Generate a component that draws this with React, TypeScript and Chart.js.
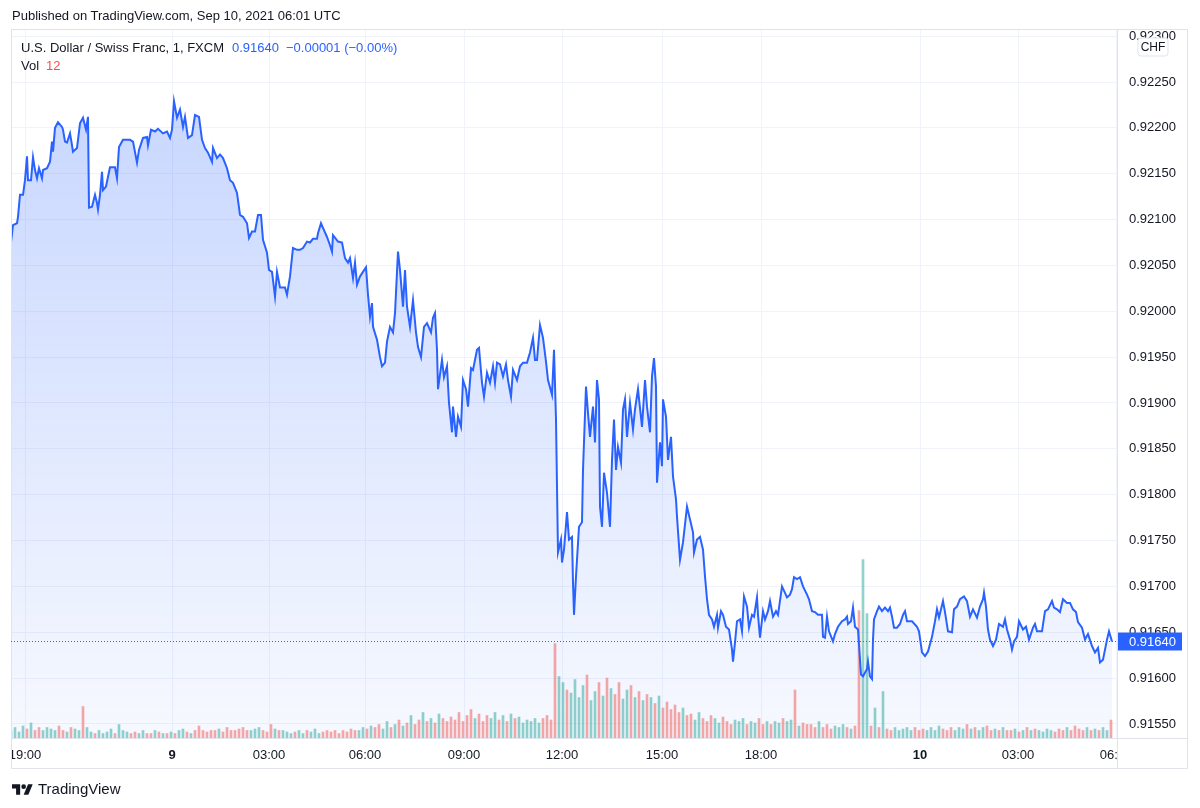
import React, { useEffect, useRef } from "react";
import { Chart, registerables } from "chart.js";

Chart.register(...registerables);

// ---- data (1-minute bars, USDCHF FXCM) ----
const barIndex = [
  0,4,12,14,18,24,28,32,34,40,
  44,48,52,56,62,64,72,78,82,84,
  88,94,102,104,108,112,118,122,124,132,
  138,144,150,154,156,162,168,172,174,178,
  182,184,190,198,208,212,216,224,238,244,
  252,256,264,272,274,280,288,294,304,312,
  318,322,326,332,338,344,348,354,362,368,
  376,382,388,394,402,404,412,418,424,432,
  438,444,452,458,464,472,476,482,488,494,
  500,504,512,516,522,528,532,538,548,552,
  558,564,572,578,584,592,598,604,612,614,
  620,624,632,638,642,644,654,662,668,674,
  678,684,688,692,698,704,710,714,718,722,
  724,732,738,742,748,752,758,764,768,774,
  778,784,788,792,798,804,810,814,820,826,
  832,840,844,848,852,854,862,866,872,876,
  882,884,890,894,900,904,910,914,920,924,
  932,936,942,946,952,958,964,968,972,978,
  984,990,994,1000,1004,1012,1018,1024,1032,1038,
  1044,1048,1052,1058,1064,1070,1074,1082,1086,1090,
  1092,1094,1100,1102,1106,1112,1116,1122,1124,1126,
  1130,1136,1142,1144,1150,1154,1158,1164,1168,1172,
  1176,1178,1182,1186,1192,1198,1202,1206,1210,1214,
  1220,1224,1228,1232,1238,1244,1248,1254,1262,1268,
  1272,1278,1282,1286,1290,1292,1298,1302,1304,1310,
  1314,1320,1324,1330,1332,1338,1344,1352,1358,1364,
  1366,1372,1378,1384,1388,1392,1396,1402,1406,1412,
  1414,1420,1424,1430,1436,1442,1444,1448,1452,1458,
  1462,1466,1472,1476,1482,1486,1492,1494,1498,1504,
  1508,1514,1518,1524,1530,1534,1542,1548,1552,1558,
  1562,1566,1572,1578,1584,1592,1596,1602,1608,1614,
  1622,1624,1628,1632,1636,1644,1648,1654,1662,1668,
  1672,1674,1680,1684,1688,1694,1700,1704,1712,1714,
  1718,1722,1724,1726,1732,1736,1742,1748,1754,1758,
  1762,1766,1772,1778,1784,1788,1792,1802,1812,1816,
  1822,1828,1834,1842,1848,1852,1856,1864,1868,1874,
  1882,1886,1892,1898,1906,1912,1918,1924,1932,1938,
  1944,1946,1950,1954,1958,1964,1970,1976,1984,1988,
  1992,1998,2002,2006,2012,2016,2024,2030,2036,2044,
  2048,2052,2062,2068,2074,2082,2086,2092,2098,2104,
  2112,2118,2124,2130,2134,2142,2148,2154,2162,2168,
  2174,2178,2184,2192,2196,2202,
];

const closePrice = [
  0.92075,0.92094,0.92096,0.92103,0.92127,0.92127,0.92143,0.92169,0.92143,0.92143,
  0.92168,0.92154,0.92145,0.92156,0.92145,0.92154,0.92156,0.92163,0.92185,0.92174,
  0.92200,0.92206,0.92201,0.92198,0.92185,0.92184,0.92194,0.92181,0.92174,0.92178,
  0.92205,0.92211,0.92198,0.92212,0.92113,0.92114,0.92127,0.92118,0.92111,0.92127,
  0.92152,0.92132,0.92136,0.92157,0.92157,0.92145,0.92179,0.92187,0.92187,0.92185,
  0.92162,0.92176,0.92189,0.92190,0.92181,0.92198,0.92196,0.92199,0.92194,0.92196,
  0.92189,0.92198,0.92229,0.92211,0.92220,0.92201,0.92212,0.92189,0.92192,0.92214,
  0.92212,0.92187,0.92178,0.92173,0.92163,0.92178,0.92167,0.92171,0.92167,0.92156,
  0.92143,0.92140,0.92129,0.92105,0.92103,0.92096,0.92080,0.92087,0.92087,0.92105,
  0.92105,0.92078,0.92064,0.92045,0.92043,0.92016,0.92043,0.92026,0.92026,0.92018,
  0.92038,0.92069,0.92067,0.92067,0.92069,0.92076,0.92075,0.92079,0.92079,0.92085,
  0.92096,0.92091,0.92081,0.92072,0.92065,0.92083,0.92076,0.92075,0.92058,0.92053,
  0.92058,0.92036,0.92053,0.92029,0.92038,0.92043,0.92048,0.92018,0.91994,0.92009,
  0.91983,0.91969,0.91950,0.91940,0.91944,0.91967,0.91983,0.91977,0.91998,0.92065,
  0.92045,0.92005,0.92045,0.92005,0.91983,0.92012,0.91977,0.91961,0.91950,0.91983,
  0.91987,0.91977,0.91993,0.91998,0.91958,0.91915,0.91947,0.91928,0.91940,0.91900,
  0.91868,0.91896,0.91863,0.91885,0.91874,0.91925,0.91915,0.91896,0.91938,0.91936,
  0.91958,0.91960,0.91922,0.91907,0.91933,0.91922,0.91940,0.91922,0.91944,0.91942,
  0.91929,0.91942,0.91925,0.91907,0.91936,0.91925,0.91940,0.91944,0.91944,0.91955,
  0.91971,0.91947,0.91947,0.91985,0.91971,0.91945,0.91925,0.91909,0.91958,0.91882,
  0.91809,0.91737,0.91751,0.91726,0.91740,0.91781,0.91751,0.91754,0.91704,0.91669,
  0.91711,0.91765,0.91770,0.91827,0.91918,0.91889,0.91863,0.91896,0.91857,0.91925,
  0.91904,0.91787,0.91765,0.91824,0.91802,0.91765,0.91838,0.91882,0.91827,0.91852,
  0.91835,0.91893,0.91904,0.91863,0.91900,0.91871,0.91893,0.91915,0.91874,0.91925,
  0.91896,0.91868,0.91929,0.91949,0.91918,0.91813,0.91857,0.91831,0.91904,0.91885,
  0.91838,0.91863,0.91820,0.91795,0.91776,0.91729,0.91748,0.91787,0.91773,0.91759,
  0.91737,0.91751,0.91754,0.91740,0.91711,0.91686,0.91669,0.91664,0.91656,0.91669,
  0.91655,0.91673,0.91669,0.91656,0.91653,0.91631,0.91618,0.91639,0.91662,0.91664,
  0.91651,0.91689,0.91678,0.91655,0.91669,0.91667,0.91688,0.91669,0.91644,0.91673,
  0.91664,0.91673,0.91684,0.91667,0.91673,0.91669,0.91700,0.91693,0.91688,0.91691,
  0.91697,0.91710,0.91708,0.91710,0.91700,0.91691,0.91686,0.91673,0.91672,0.91669,
  0.91669,0.91645,0.91644,0.91667,0.91651,0.91640,0.91648,0.91656,0.91662,0.91664,
  0.91667,0.91659,0.91662,0.91677,0.91656,0.91653,0.91604,0.91602,0.91610,0.91618,
  0.91602,0.91599,0.91642,0.91664,0.91673,0.91678,0.91673,0.91677,0.91673,0.91677,
  0.91667,0.91655,0.91655,0.91659,0.91669,0.91673,0.91662,0.91662,0.91656,0.91651,
  0.91628,0.91624,0.91629,0.91645,0.91662,0.91675,0.91666,0.91684,0.91672,0.91651,
  0.91650,0.91675,0.91678,0.91686,0.91689,0.91684,0.91667,0.91675,0.91666,0.91678,
  0.91686,0.91693,0.91678,0.91653,0.91642,0.91635,0.91642,0.91659,0.91656,0.91664,
  0.91653,0.91642,0.91631,0.91640,0.91645,0.91662,0.91653,0.91656,0.91642,0.91655,
  0.91659,0.91651,0.91651,0.91673,0.91675,0.91684,0.91677,0.91675,0.91672,0.91686,
  0.91682,0.91682,0.91675,0.91672,0.91661,0.91655,0.91642,0.91648,0.91635,0.91628,
  0.91633,0.91617,0.91620,0.91642,0.91651,0.91640,
];

// volume sampled every 8 bars
const volumeStep = 8;
const volume = [
  5,7,4,8,6,10,5,7,5,7,
  6,5,8,5,4,7,6,5,21,7,
  4,3,5,3,4,6,3,9,5,4,
  3,4,3,5,3,3,5,4,3,3,
  4,3,5,6,4,3,5,8,5,4,
  5,5,6,4,7,5,5,6,7,5,
  5,6,7,5,4,9,6,5,5,4,
  3,4,5,3,5,4,6,3,4,5,
  4,5,3,5,4,6,5,5,7,6,
  8,7,9,6,11,7,9,12,8,10,
  15,9,12,17,11,13,10,16,13,11,
  14,12,17,11,15,19,13,16,11,15,
  13,17,12,15,11,16,13,14,10,12,
  11,13,10,13,15,12,63,41,37,32,
  30,39,27,35,42,25,31,37,28,40,
  33,29,37,26,32,35,27,31,25,29,
  27,23,28,20,24,19,22,17,20,15,
  16,12,17,13,11,15,13,10,14,11,
  9,12,11,13,9,11,10,13,9,11,
  9,11,10,13,11,12,32,8,10,9,
  9,7,11,7,9,6,8,7,9,7,
  6,8,85,119,83,8,20,7,31,6,
  5,7,5,6,7,5,7,5,6,5,
  7,5,8,6,5,7,5,7,6,9,
  6,7,5,7,8,5,6,5,7,5,
  5,6,4,5,7,5,6,5,4,6,
  5,4,6,5,7,5,8,6,5,7,
  5,6,5,7,5,12,
];

const timeTickBars = [28, 322, 516, 708, 906, 1102, 1302, 1500, 1818, 2014, 2210];
const timeTickLabels = ["19:00", "9", "03:00", "06:00", "09:00", "12:00", "15:00", "18:00", "10", "03:00", "06:00"];
const dayLabels = ["9", "10"];
const priceTicks = [0.9155, 0.916, 0.9165, 0.917, 0.9175, 0.918, 0.9185, 0.919, 0.9195, 0.92, 0.9205, 0.921, 0.9215, 0.922, 0.9225, 0.923];
const lastPrice = 0.9164;
const priceChange = "−0.00001 (−0.00%)";
const lastVolume = 12;

const FONT = "'Liberation Sans', Arial, sans-serif";
const TEXT = "#131722";
const BLUE = "#2962ff";
const FRAME = "#e0e3eb";

function isUp(bar: number): boolean {
  let i = 0;
  while (i < barIndex.length - 2 && barIndex[i + 1] <= bar) i++;
  return closePrice[i + 1] >= closePrice[i];
}

export default function App() {
  const ref = useRef<HTMLCanvasElement | null>(null);

  useEffect(() => {
    if (!ref.current) return;
    const lineData = barIndex.map((b, i) => ({ x: b, y: closePrice[i] }));
    const volData = volume.map((v, k) => ({ x: k * volumeStep, y: v }));
    const volColors = volume.map((_, k) =>
      isUp(k * volumeStep) ? "rgba(38,166,154,0.5)" : "rgba(239,83,80,0.5)"
    );

    const decor = {
      id: "tvDecor",
      afterDraw(chart: any) {
        const { ctx, chartArea } = chart;
        const xs = chart.scales.x;
        const ys = chart.scales.y;
        const L = chartArea.left, R = chartArea.right, T = chartArea.top, B = chartArea.bottom;
        const outerR = R + 71, outerB = B + 31;
        ctx.save();
        // time labels (clipped to the time axis strip)
        ctx.save();
        ctx.beginPath();
        ctx.rect(L, B, R - L, 31);
        ctx.clip();
        ctx.fillStyle = TEXT;
        ctx.textAlign = "center";
        ctx.textBaseline = "middle";
        timeTickBars.forEach((b, i) => {
          const lab = timeTickLabels[i];
          ctx.font = (dayLabels.includes(lab) ? "bold " : "") + "13px " + FONT;
          ctx.fillText(lab, xs.getPixelForValue(b), B + 17);
        });
        ctx.restore();

        // frame
        ctx.strokeStyle = FRAME;
        ctx.lineWidth = 1;
        ctx.beginPath();
        ctx.rect(L + 0.5, T + 0.5, outerR - L - 1, outerB - T - 1);
        ctx.moveTo(R + 0.5, T);
        ctx.lineTo(R + 0.5, outerB);
        ctx.moveTo(L, B + 0.5);
        ctx.lineTo(outerR, B + 0.5);
        ctx.stroke();

        // last price dotted line
        const py = Math.round(ys.getPixelForValue(lastPrice)) + 0.5;
        ctx.strokeStyle = BLUE;
        ctx.setLineDash([1, 2]);
        ctx.beginPath();
        ctx.moveTo(L, py);
        ctx.lineTo(R, py);
        ctx.stroke();
        ctx.setLineDash([]);

        // last price label
        ctx.fillStyle = BLUE;
        ctx.fillRect(R + 1, py - 9, 64, 18);
        ctx.fillStyle = "#ffffff";
        ctx.font = "13px " + FONT;
        ctx.textAlign = "left";
        ctx.textBaseline = "middle";
        ctx.fillText(lastPrice.toFixed(5), R + 12, py + 0.5);

        // currency box
        const bx = R + 21, by = T + 9, bw = 30, bh = 18, r = 3;
        ctx.beginPath();
        ctx.moveTo(bx + r, by);
        ctx.lineTo(bx + bw - r, by);
        ctx.quadraticCurveTo(bx + bw, by, bx + bw, by + r);
        ctx.lineTo(bx + bw, by + bh - r);
        ctx.quadraticCurveTo(bx + bw, by + bh, bx + bw - r, by + bh);
        ctx.lineTo(bx + r, by + bh);
        ctx.quadraticCurveTo(bx, by + bh, bx, by + bh - r);
        ctx.lineTo(bx, by + r);
        ctx.quadraticCurveTo(bx, by, bx + r, by);
        ctx.closePath();
        ctx.fillStyle = "#ffffff";
        ctx.fill();
        ctx.strokeStyle = FRAME;
        ctx.stroke();
        ctx.fillStyle = TEXT;
        ctx.font = "12px " + FONT;
        ctx.textAlign = "center";
        ctx.fillText("CHF", bx + bw / 2, by + bh / 2 + 0.5);
        ctx.restore();
      },
    };

    const chart = new Chart(ref.current, {
      type: "line",
      data: {
        datasets: [
          {
            type: "line",
            data: lineData,
            borderColor: BLUE,
            borderWidth: 2,
            pointRadius: 0,
            tension: 0,
            fill: "start",
            order: 0,
            yAxisID: "y",
            backgroundColor: (c: any) => {
              const ca = c.chart.chartArea;
              if (!ca) return "rgba(41,98,255,0.15)";
              const g = c.chart.ctx.createLinearGradient(0, ca.top, 0, ca.bottom);
              g.addColorStop(0, "rgba(41,98,255,0.28)");
              g.addColorStop(1, "rgba(41,98,255,0.04)");
              return g;
            },
          } as any,
          {
            type: "bar",
            data: volData,
            backgroundColor: volColors,
            barThickness: 2,
            order: 1,
            yAxisID: "yv",
          } as any,
        ],
      },
      options: {
        animation: false,
        responsive: false,
        maintainAspectRatio: false,
        layout: { padding: { left: 11, top: 29, right: 12, bottom: 39 } },
        plugins: {
          legend: { display: false },
          tooltip: { enabled: false },
          filler: { drawTime: "beforeDatasetsDraw" },
        } as any,
        scales: {
          x: {
            type: "linear",
            min: 0,
            max: 2212,
            offset: false,
            afterBuildTicks: (s: any) => {
              s.ticks = timeTickBars.map((v) => ({ value: v }));
            },
            afterFit: (s: any) => {
              s.height = 31;
            },
            ticks: { display: false },
            grid: { color: "#f0f3fa", drawTicks: false, offset: false },
            border: { display: false },
          },
          y: {
            type: "linear",
            position: "right",
            min: 0.915347,
            max: 0.923078,
            afterBuildTicks: (s: any) => {
              s.ticks = priceTicks.map((v) => ({ value: v }));
            },
            afterFit: (s: any) => {
              s.width = 71;
            },
            ticks: {
              color: TEXT,
              padding: 12,
              font: { family: FONT, size: 13 },
              callback: (v: any) => Number(v).toFixed(5),
            },
            grid: { color: "#f0f3fa", drawTicks: false, offset: false },
            border: { display: false },
          },
          yv: {
            type: "linear",
            display: false,
            min: 0,
            max: 473,
          },
        },
      } as any,
      plugins: [decor],
    });
    return () => chart.destroy();
  }, []);

  return (
    <div style={{ position: "absolute", left: 0, top: 0, width: 1200, height: 808, background: "#fff", fontFamily: FONT, color: TEXT }}>
      <canvas ref={ref} width={1200} height={808} style={{ position: "absolute", left: 0, top: 0, width: 1200, height: 808 }} />
      <div style={{ position: "absolute", left: 12, top: 8, fontSize: 13, lineHeight: "16px", whiteSpace: "nowrap" }}>
        Published on TradingView.com, Sep 10, 2021 06:01 UTC
      </div>
      <div style={{ position: "absolute", left: 21, top: 40, fontSize: 13, lineHeight: "16px", whiteSpace: "nowrap" }}>
        <span>U.S. Dollar / Swiss Franc, 1, FXCM</span>
        <span style={{ color: BLUE, marginLeft: 8 }}>{lastPrice.toFixed(5)}</span>
        <span style={{ color: BLUE, marginLeft: 7 }}>{priceChange}</span>
      </div>
      <div style={{ position: "absolute", left: 21, top: 58, fontSize: 13, lineHeight: "16px", whiteSpace: "nowrap" }}>
        <span>Vol</span>
        <span style={{ color: "#ef5350", marginLeft: 7 }}>{lastVolume}</span>
      </div>
      <div style={{ position: "absolute", left: 12, top: 781, display: "flex", alignItems: "center", whiteSpace: "nowrap" }}>
        <svg width="21" height="14" viewBox="0 0 36 24">
          <path d="M14 22H7V11H0V4h14v18z" fill={TEXT} />
          <circle cx="20" cy="8" r="4" fill={TEXT} />
          <path d="M28 22h-8l7.5-18h8L28 22z" fill={TEXT} />
        </svg>
        <span style={{ marginLeft: 5, fontSize: 15, lineHeight: "16px" }}>TradingView</span>
      </div>
    </div>
  );
}
